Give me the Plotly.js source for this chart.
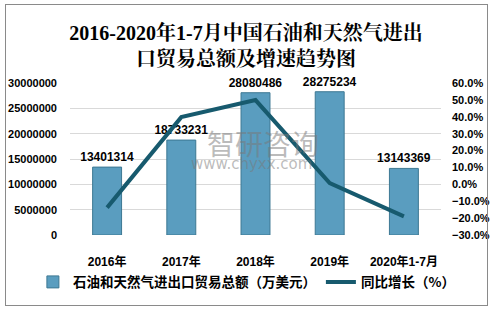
<!DOCTYPE html>
<html>
<head>
<meta charset="utf-8">
<script src="https://cdn.plot.ly/plotly-3.0.1.min.js"></script>
<style>
html,body{margin:0;padding:0;background:#fff;}
#wrap{position:relative;width:492px;height:310px;}
#chart{width:492px;height:310px;}
#frame{position:absolute;left:5px;top:4px;width:481px;height:300px;border:1px solid #8a8a8a;pointer-events:none;}
</style>
</head>
<body>
<div id="wrap"><div id="chart"></div><div id="frame"></div></div>
<script>
const categories = ['2016年', '2017年', '2018年', '2019年', '2020年1-7月'];
const tradeTotal = [13401314, 18733231, 28080486, 28275234, 13143369];
const growthRate = [-0.138, 0.398, 0.499, 0.007, -0.190];
const barName = '石油和天然气进出口贸易总额（万美元）';
const lineName = '同比增长（%）';
const titleText = '2016-2020年1-7月中国石油和天然气进出<br>口贸易总额及增速趋势图';

const sans = 'Liberation Sans, Arial, Noto Sans CJK SC, sans-serif';
const serif = 'Liberation Serif, Noto Serif CJK SC, Noto Sans CJK SC, serif';

const traces = [
  {
    type: 'bar',
    x: categories,
    y: tradeTotal,
    name: barName,
    width: 0.39,
    marker: {color: '#5a9dbf', line: {color: '#3d7893', width: 1}},
    text: tradeTotal.map(v => String(v)),
    textposition: 'outside',
    constraintext: 'none',
    textfont: {family: sans, size: 12, color: '#000', weight: 'bold'},
    cliponaxis: false,
    hoverinfo: 'skip'
  },
  {
    type: 'scatter',
    mode: 'lines',
    x: categories,
    y: growthRate,
    yaxis: 'y2',
    name: lineName,
    line: {color: '#175a6e', width: 4},
    hoverinfo: 'skip'
  }
];

const layout = {
  width: 492,
  height: 310,
  margin: {l: 70, r: 51, t: 83, b: 70},
  paper_bgcolor: '#fff',
  plot_bgcolor: '#fff',
  showlegend: true,
  title: {
    text: '<b>' + titleText + '</b>',
    font: {family: serif, size: 20, color: '#000'},
    x: 0.5, xanchor: 'center',
    y: 1 - 40/310, yanchor: 'middle', yref: 'container'
  },
  xaxis: {
    type: 'category',
    automargin: false,
    showgrid: false,
    zeroline: false,
    showline: false,
    ticks: '',
    ticklabelstandoff: 18,
    tickfont: {family: sans, size: 12, color: '#000', weight: 'bold'}
  },
  yaxis: {
    range: [0, 30000000],
    automargin: false,
    dtick: 5000000,
    tickformat: 'd',
    showgrid: true,
    gridcolor: '#d9d9d9',
    gridwidth: 1,
    zeroline: false,
    showline: false,
    ticks: '',
    ticklabelstandoff: 12,
    tickfont: {family: sans, size: 11, color: '#000', weight: 'bold'}
  },
  yaxis2: {
    overlaying: 'y',
    side: 'right',
    automargin: false,
    range: [-0.3, 0.6],
    dtick: 0.1,
    tickformat: '.1%',
    showgrid: false,
    zeroline: false,
    showline: false,
    ticks: '',
    ticklabelstandoff: 10,
    tickfont: {family: sans, size: 11, color: '#000', weight: 'bold'}
  },
  legend: {
    orientation: 'h',
    bgcolor: 'rgba(0,0,0,0)',
    x: -0.1, xanchor: 'left',
    y: -0.31, yanchor: 'middle',
    font: {family: 'Noto Sans CJK SC, ' + sans, size: 13.5, color: '#000', weight: 'bold'},
    itemwidth: 30,
    traceorder: 'normal',
    tracegroupgap: 0
  },
  annotations: [
    {text: '智研咨询', xref: 'paper', yref: 'paper', x: 0.52, y: (240-144.5)/157, xanchor: 'center', yanchor: 'middle', showarrow: false,
     font: {family: 'Noto Sans CJK SC, sans-serif', size: 28, color: 'rgba(120,120,120,0.5)'}},
    {text: 'www.chyxx.com', xref: 'paper', yref: 'paper', x: 0.49, y: (240-167)/157, xanchor: 'center', yanchor: 'middle', showarrow: false,
     font: {family: 'DejaVu Sans, sans-serif', size: 15, color: 'rgba(120,120,120,0.5)'}}
  ]
};

Plotly.newPlot('chart', traces, layout, {displayModeBar: false, staticPlot: true});
</script>
</body>
</html>
